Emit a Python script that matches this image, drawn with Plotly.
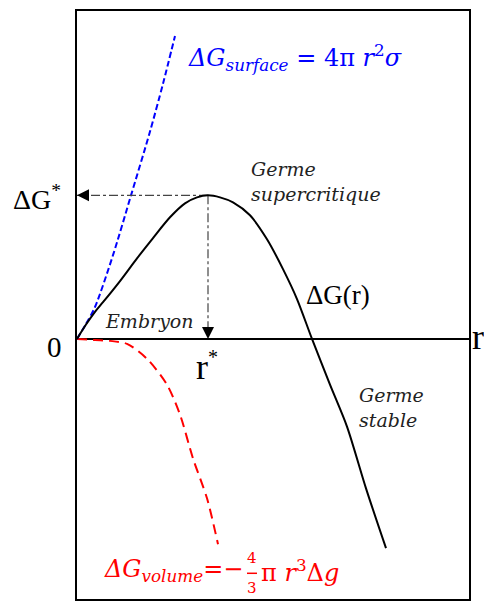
import plotly.graph_objects as go

# --- data (arbitrary units) ---
r_total = [0, 0.225, 0.45, 0.65, 1.075, 1.5, 1.9, 2.325, 2.7, 3.0, 3.275, 3.575, 3.9,
           4.325, 4.75, 5.15, 5.5, 5.875, 6.325, 6.75, 7.225, 7.725]
g_total = [0, 0.36, 0.68, 0.92, 1.45, 2.02, 2.53, 3.05, 3.4, 3.55, 3.6, 3.55, 3.425,
           3.1, 2.5, 1.75, 1.0, 0, -1.15, -2.2, -3.75, -5.25]

r_surface = [0, 0.225, 0.45, 0.9, 1.35, 1.825, 2.15, 2.45]
g_surface = [0, 0.375, 0.8, 2.1, 3.6, 5.2, 6.4, 7.6]

r_volume = [0, 0.45, 0.825, 1.25, 1.75, 2.25, 2.575, 2.9, 3.25, 3.525]
g_volume = [0, -0.03, -0.05, -0.125, -0.5, -1.15, -1.9, -3.0, -4.0, -5.15]

r_star = 3.275
g_star = 3.6

X_RANGE = [0, 9.8]
Y_RANGE = [-6.525, 8.225]

SERIF = "Liberation Serif"
ITAL = "DejaVu Serif"
BLUE = "#0000ff"
RED = "#ff0000"
GUIDE = "#444444"

fig = go.Figure()

fig.add_trace(go.Scatter(x=r_volume, y=g_volume, mode="lines",
                         line=dict(color=RED, width=2, dash="10px,6px", shape="spline", smoothing=0.8),
                         hoverinfo="skip"))
fig.add_trace(go.Scatter(x=r_surface, y=g_surface, mode="lines",
                         line=dict(color=BLUE, width=2, dash="6px,3px", shape="spline", smoothing=0.8),
                         hoverinfo="skip"))
# guide lines (dash-dot) from the maximum
fig.add_trace(go.Scatter(x=[r_star, 0], y=[g_star, g_star], mode="lines",
                         line=dict(color=GUIDE, width=1.2, dash="dashdot"),
                         hoverinfo="skip"))
fig.add_trace(go.Scatter(x=[r_star, r_star], y=[g_star, 0], mode="lines",
                         line=dict(color=GUIDE, width=1.2, dash="dashdot"),
                         hoverinfo="skip"))
fig.add_trace(go.Scatter(x=r_total, y=g_total, mode="lines",
                         line=dict(color="black", width=2, shape="spline", smoothing=0.8),
                         hoverinfo="skip"))
# arrowheads
fig.add_trace(go.Scatter(x=[0], y=[g_star], mode="markers",
                         marker=dict(symbol="arrow-left", size=12, color="black"),
                         hoverinfo="skip", cliponaxis=False))
fig.add_trace(go.Scatter(x=[r_star], y=[0], mode="markers",
                         marker=dict(symbol="arrow-down", size=12, color="black"),
                         hoverinfo="skip", cliponaxis=False))

def ann(text, x, y, size, color="black", xanchor="center", yanchor="middle",
        italic=False, xref="x", family=SERIF):
    fig.add_annotation(x=x, y=y, xref=xref, yref="y", text=text, showarrow=False,
                       xanchor=xanchor, yanchor=yanchor, align="left",
                       font=dict(family=family, size=size, color=color,
                                 style="italic" if italic else "normal"))

# labels outside the frame (paper x)
ann("ΔG<sup>*</sup>", -0.035, 3.55, 28, xanchor="right", xref="paper")
ann("0", -0.058, -0.2, 29, xref="paper")
ann("r", 1.022, 0.05, 36, xref="paper")

ann("r<sup><span style='font-size:20px'>*</span></sup>", 3.24, -0.7, 36)
ann("ΔG(r)", 6.525, 1.1, 27)
ann("Germe<br>supercritique", 4.3, 3.95, 19, xanchor="left", italic=True,
    color="#222222", family=ITAL)
ann("Embryon", 1.8, 0.45, 19, italic=True, color="#222222", family=ITAL)
ann("Germe<br>stable", 7.0, -1.72, 19, xanchor="left", italic=True,
    color="#222222", family=ITAL)

ann("<i>ΔG</i><sub><i>surface</i></sub> = 4π <i>r</i><sup>2</sup><i>σ</i>", 2.72, 7.05, 24,
    color=BLUE, xanchor="left", family=ITAL)

# volume term formula: ΔG_volume = − (4/3) π r³ Δg
ann("<i>ΔG</i><sub><i>volume</i></sub>=−", 0.63, -5.82, 24, color=RED, xanchor="left",
    family=ITAL)
ann("4", 4.375, -5.5, 15, color=RED, family=ITAL)
ann("3", 4.375, -6.25, 15, color=RED, family=ITAL)
ann("π <i>r</i><sup>3</sup>Δ<i>g</i>", 4.55, -5.82, 24, color=RED, xanchor="left",
    family=ITAL)
fig.add_shape(type="line", xref="x", yref="y", x0=4.25, x1=4.5, y0=-5.88, y1=-5.88,
              line=dict(color=RED, width=1.5))

# page has an 8px body margin: the figure is drawn 8px right and down
fig.update_layout(
    width=484, height=600,
    margin=dict(l=69, r=23, t=1, b=9),
    paper_bgcolor="white", plot_bgcolor="white",
    showlegend=False,
    xaxis=dict(range=X_RANGE, showgrid=False, zeroline=False, showticklabels=False,
               ticks="", showline=True, mirror=True, linecolor="black", linewidth=2),
    yaxis=dict(range=Y_RANGE, showgrid=False, zeroline=True, zerolinecolor="black",
               zerolinewidth=2, showticklabels=False, ticks="",
               showline=True, mirror=True, linecolor="black", linewidth=2),
)

fig.write_html("out.html")
